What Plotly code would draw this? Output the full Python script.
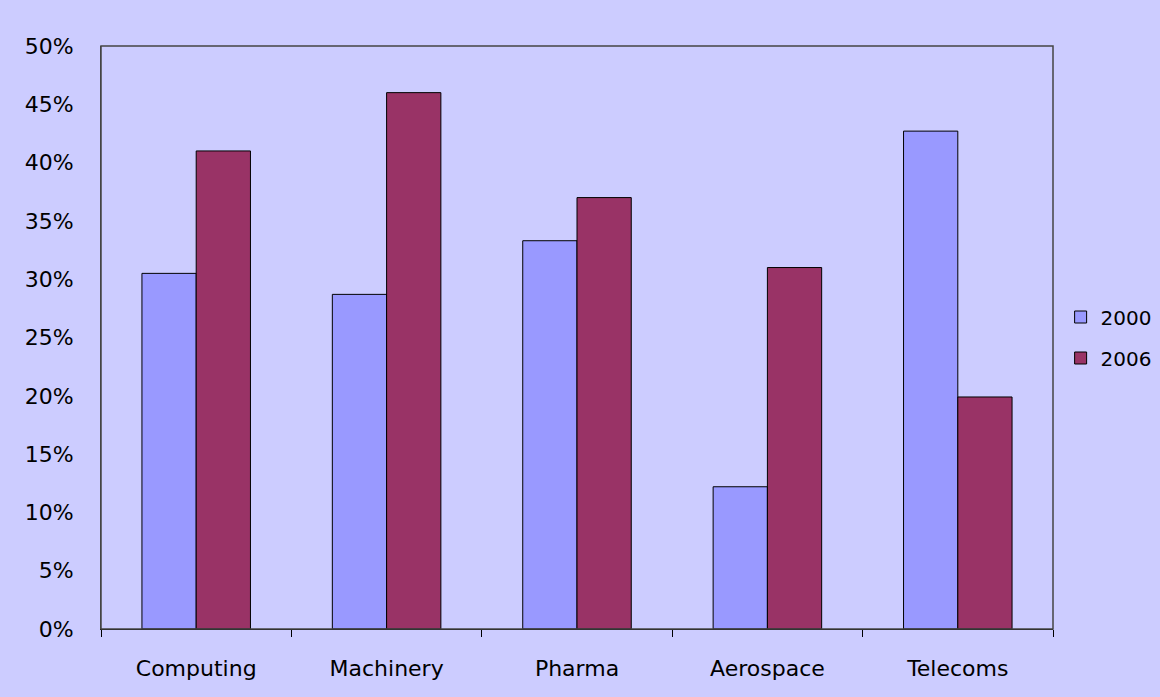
import plotly.graph_objects as go

categories = ["Computing", "Machinery", "Pharma", "Aerospace", "Telecoms"]
share_2000 = [0.305, 0.287, 0.333, 0.122, 0.427]
share_2006 = [0.410, 0.460, 0.370, 0.310, 0.199]

bg = "#CCCCFF"
font = dict(family="DejaVu Sans, Liberation Sans, Arial, sans-serif", size=22, color="black")

fig = go.Figure()
fig.add_trace(go.Bar(x=categories, y=share_2000, name="2000", legendgroup="a",
                     marker=dict(color="#9999FF", line=dict(color="black", width=1))))
fig.add_trace(go.Bar(x=categories, y=share_2006, name="2006", legendgroup="b",
                     marker=dict(color="#993366", line=dict(color="black", width=1))))

# grey frame round the plot area
fig.add_shape(type="rect", xref="paper", yref="paper", x0=0, y0=0, x1=1, y1=1,
              line=dict(color="#444444", width=1.5), layer="above")

fig.update_layout(
    width=1160, height=697,
    margin=dict(l=101, r=107, t=46, b=68, autoexpand=False),
    paper_bgcolor=bg, plot_bgcolor=bg,
    font=font,
    barmode="group", bargap=0.43, bargroupgap=0,
    legend=dict(x=1.008, y=0.5, yanchor="middle", xanchor="left",
                bgcolor="rgba(0,0,0,0)",
                font=dict(size=20), itemwidth=30, tracegroupgap=12),
)
fig.update_xaxes(showline=True, linecolor="black", linewidth=1,
                 ticks="outside", tickson="boundaries", ticklen=7, tickcolor="black",
                 ticklabelstandoff=20, showgrid=False, tickfont=dict(size=22))
fig.update_yaxes(range=[0, 0.5], dtick=0.05, tickformat=".0%",
                 showgrid=False, zeroline=False, showline=True, linecolor="#444444",
                 ticks="", ticklabelstandoff=22, tickfont=dict(size=22))

fig.write_html("out.html", config={"displayModeBar": False},
               post_script="document.body.style.margin='0';")
